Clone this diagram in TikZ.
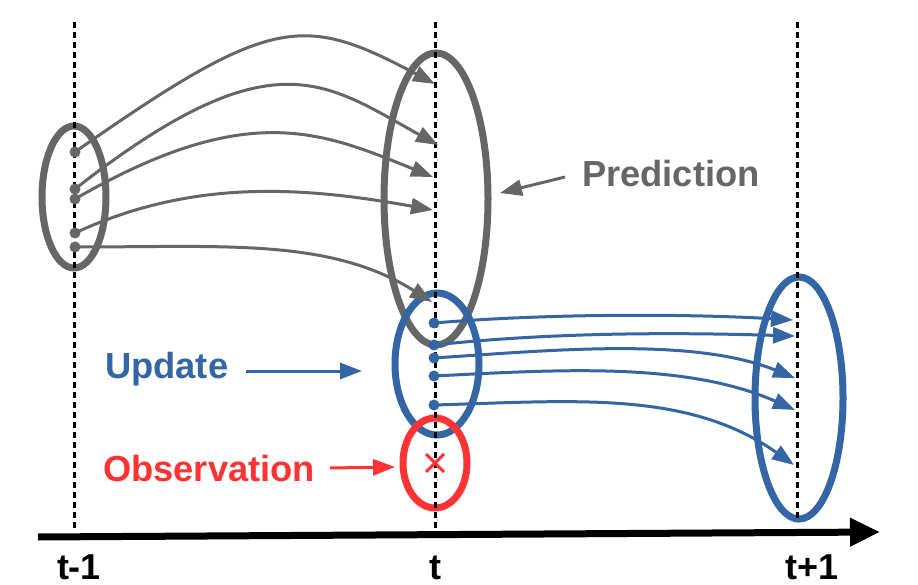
\documentclass[tikz,border=0pt]{standalone}
\usepackage{fontspec}
\setmainfont{Liberation Sans}
\usetikzlibrary{arrows.meta,shapes.geometric}
\definecolor{pgray}{HTML}{666666}
\definecolor{ublue}{HTML}{3465A4}
\definecolor{ored}{HTML}{FF3333}
\begin{document}
\begin{tikzpicture}[x=1pt,y=-1pt,
  guide/.style={black,line width=3pt,dash pattern=on 6pt off 4pt},
  oval/.style={ellipse,draw,line width=7pt,inner sep=0pt,outer sep=0pt},
  gdot/.style={circle,fill=pgray,inner sep=0pt,minimum size=11pt},
  bdot/.style={circle,fill=ublue,inner sep=0pt,minimum size=11pt},
  flow/.style={line width=3pt,-{Triangle[length=22pt,width=16pt]}},
  lbl/.style={font=\bfseries\fontsize{36.3}{40}\selectfont,anchor=base west,inner sep=0pt},
  tlbl/.style={font=\bfseries\fontsize{36}{40}\selectfont,anchor=base,inner sep=0pt}]
\useasboundingbox (0,0) rectangle (918,585);
\fill[white] (0,0) rectangle (918,585);

% ellipses
\node[oval,pgray,minimum width=64pt,minimum height=142pt] (L) at (74,197) {};
\node[oval,pgray,minimum width=104pt,minimum height=292pt] (P) at (436,199) {};
\node[oval,ublue,minimum width=84pt,minimum height=142pt] (U) at (437,364) {};
\node[oval,ored,minimum width=64pt,minimum height=90pt] (O) at (435,463) {};
\node[oval,ublue,minimum width=88pt,minimum height=242pt] (R) at (799,398) {};

% time guides
\coordinate (g1t) at (74,22);  \coordinate (g1b) at (74,530);
\coordinate (g2t) at (435,22); \coordinate (g2b) at (435,530);
\coordinate (g3t) at (797,22); \coordinate (g3b) at (797,522);
\draw[guide] (g1t) -- (g1b);
\draw[guide] (g2t) -- (g2b);
\draw[guide] (g3t) -- (g3b);

% axis
\coordinate (ax0) at (38,537);
\coordinate (ax1) at (880,532);
\draw[line width=7pt,-{Triangle[length=30pt,width=27pt]}] (ax0) -- (ax1);
\node[tlbl] (tm) at (79,579) {t-1};
\node[tlbl] (t0) at (435,579) {t};
\node[tlbl] (tp) at (812,579) {t+1};

% gray particles
\node[gdot] (d1) at (75,152) {};
\node[gdot] (d2) at (75,189) {};
\node[gdot] (d3) at (75,199) {};
\node[gdot] (d4) at (75,233) {};
\node[gdot] (d5) at (75,247) {};
\coordinate (e1) at (435,84);
\coordinate (e2) at (438,145);
\coordinate (e3) at (433,177);
\coordinate (e4) at (433,210);
\coordinate (e5) at (432,302);
\begin{scope}[pgray]
\draw[flow] (d1.center) .. controls +(197,-138) and +(-132,-70) .. (e1);
\draw[flow] (d2.center) .. controls +(197,-154) and +(-114,-63) .. (e2);
\draw[flow] (d3.center) .. controls +(173,-100) and +(-111,-45) .. (e3);
\draw[flow] (d4.center) .. controls +(118,-55) and +(-128,-23) .. (e4);
\draw[flow] (d5.center) .. controls +(150,0) and +(-102,-64) .. (e5);
\end{scope}

% blue particles
\node[bdot] (b1) at (434,323) {};
\node[bdot] (b2) at (434,345) {};
\node[bdot] (b3) at (434,358) {};
\node[bdot] (b4) at (434,376) {};
\node[bdot] (b5) at (434,405) {};
\coordinate (f1) at (793,320);
\coordinate (f2) at (795,336);
\coordinate (f3) at (795,378);
\coordinate (f4) at (795,410);
\coordinate (f5) at (794,465);
\begin{scope}[ublue]
\draw[flow] (b1.center) .. controls +(120,-10) and +(-100,-6) .. (f1);
\draw[flow] (b2.center) .. controls +(130,-14) and +(-100,-3) .. (f2);
\draw[flow] (b3.center) .. controls +(120,-8) and +(-102,-41) .. (f3);
\draw[flow] (b4.center) .. controls +(120,-6) and +(-110,-49) .. (f4);
\draw[flow] (b5.center) .. controls +(140,-4) and +(-106,-75) .. (f5);
\end{scope}

% observation cross
\coordinate (x0) at (435,463);
\draw[ored,line width=3pt] ([shift={(-9,-9)}]x0) -- ([shift={(9,9)}]x0)
                           ([shift={(-9,9)}]x0) -- ([shift={(9,-9)}]x0);

% labels
\node[lbl,pgray] (predT) at (582,187) {Prediction};
\coordinate (pa0) at (565,177); \coordinate (pa1) at (500,193);
\draw[pgray,flow] (pa0) -- (pa1);

\node[lbl,ublue] (updT) at (105,378) {Update};
\coordinate (ua0) at (246,371); \coordinate (ua1) at (362,371);
\draw[ublue,flow] (ua0) -- (ua1);

\node[lbl,ored] (obsT) at (103,481) {Observation};
\coordinate (oa0) at (330,468); \coordinate (oa1) at (395,467);
\draw[ored,flow] (oa0) -- (oa1);
\end{tikzpicture}
\end{document}
